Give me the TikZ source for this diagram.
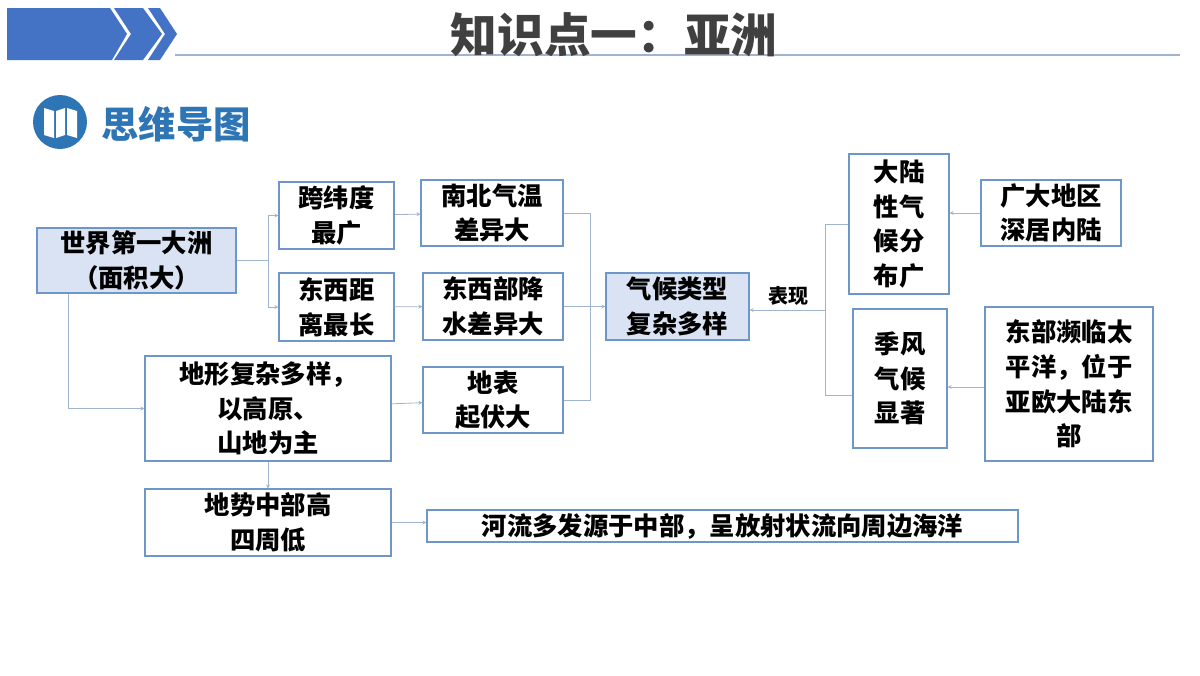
\documentclass[tikz,border=0pt]{standalone}
\usetikzlibrary{arrows.meta}
\usepackage{fontspec}
\newfontfamily\cjk{Noto Sans CJK SC}
\definecolor{barblue}{RGB}{68,114,196}
\definecolor{iconblue}{RGB}{46,117,182}
\definecolor{boxline}{RGB}{110,150,200}
\definecolor{boxfill}{RGB}{218,227,243}
\definecolor{linkcol}{RGB}{160,180,205}
\definecolor{titlecol}{RGB}{64,64,64}
\tikzset{
  box/.style={draw=boxline, line width=0.8pt, inner sep=0pt, align=center,
    font=\cjk\bfseries\fontsize{19}{26}\selectfont},
  link/.style={draw=linkcol, line width=0.6pt},
  arr/.style={link, -{Stealth[length=3pt,width=3pt]}}
}
\begin{document}
\begin{tikzpicture}[x=0.75pt,y=0.75pt,yscale=-1]
      \useasboundingbox (0,0) rectangle (1200,675);

      %Header bar and chevrons
      \fill [barblue] (7,8) -- (110,8) -- (127,34) -- (112,60) -- (7,60) -- cycle ;
      \fill [barblue] (114,8) -- (143,8) -- (162,34) -- (143,60) -- (114,60) -- (131,34) -- cycle ;
      \fill [barblue] (148,8) -- (160,8) -- (177,34) -- (160,60) -- (148,60) -- (165,34) -- cycle ;
      \draw [color=linkcol, line width=0.8pt] (175,55) -- (1180,55) ;
      % Text Node
      \node (title) at (614,35) [text=titlecol, font=\cjk\bfseries\fontsize{35}{38}\selectfont] {知识点一：亚洲};

      %Icon
      \fill [iconblue] (60,122) circle [radius=27] ;
      \fill [white] (44,108) -- (54,111) -- (54,138) -- (44,135) -- cycle ;
      \fill [white] (56,111) -- (65,108) -- (65,135) -- (56,138) -- cycle ;
      \fill [white] (67,108) -- (77,111) -- (77,138) -- (67,135) -- cycle ;
      % Text Node
      \node (sub) at (176,124) [text=iconblue, font=\cjk\bfseries\fontsize{28}{30}\selectfont] {思维导图};

      % Boxes
      \node (big) at (136.5,260.5) [box, fill=boxfill, minimum width=149.25pt, minimum height=48.75pt] {世界第一大洲\\（面积大）};
      \node (lat) at (336.5,215.5) [box, minimum width=86.25pt, minimum height=50.25pt] {跨纬度\\最广};
      \node (temp) at (492,213) [box, minimum width=106.5pt, minimum height=49.5pt] {南北气温\\差异大};
      \node (ew) at (336.5,307) [box, minimum width=86.25pt, minimum height=51pt] {东西距\\离最长};
      \node (rain) at (493,306.5) [box, minimum width=105pt, minimum height=50.25pt] {东西部降\\水差异大};
      \node (terr) at (268,408.5) [box, minimum width=184.5pt, minimum height=78.75pt] {地形复杂多样，\\以高原、\\山地为主};
      \node (relief) at (493,400) [box, minimum width=105pt, minimum height=49.5pt] {地表\\起伏大};
      \node (slope) at (268,522.5) [box, minimum width=184.5pt, minimum height=50.25pt] {地势中部高\\四周低};
      \node (river) at (722.5,526) [box, minimum width=443.25pt, minimum height=24pt] {河流多发源于中部，呈放射状流向周边海洋};
      \node (clim) at (677.5,306.5) [box, fill=boxfill, minimum width=107.25pt, minimum height=50.25pt] {气候类型\\复杂多样};
      \node (cont) at (899,224) [box, minimum width=75pt, minimum height=105pt] {大陆\\性气\\候分\\布广};
      \node (inland) at (1051,213) [box, minimum width=105pt, minimum height=49.5pt] {广大地区\\深居内陆};
      \node (mons) at (900,378.5) [box, minimum width=70.5pt, minimum height=104.25pt] {季风\\气候\\显著};
      \node (pac) at (1069,384) [box, minimum width=126pt, minimum height=115.5pt] {东部濒临太\\平洋，位于\\亚欧大陆东\\部};
      % Text Node
      \node (show) at (788,296) [font=\cjk\bfseries\fontsize{15}{17}\selectfont] {表现};

      % Connectors
      \coordinate (splitA) at (268,260.5) ;
      \draw [link] (big.east) -- (splitA) ;
      \draw [arr] (splitA) |- (lat.west) ;
      \draw [arr] (splitA) |- (ew.west) ;
      \draw [arr] (lat) -- (temp) ;
      \draw [arr] (ew) -- (rain) ;
      \draw [arr] (big.south -| 68,0) |- (terr.west) ;
      \draw [arr] (terr) -- (relief) ;
      \draw [arr] (terr) -- (slope) ;
      \draw [arr] (slope.east) -- (river.west |- slope.east) ;
      \coordinate (joinC) at (590,306.5) ;
      \draw [link] (temp.east) -| (joinC) ;
      \draw [link] (relief.east) -| (joinC) ;
      \draw [arr] (rain) -- (clim) ;
      \coordinate (splitR) at (825,310) ;
      \draw [arr] (splitR) -- (clim.east |- splitR) ;
      \draw [link] (splitR) |- (cont.west) ;
      \draw [link] (splitR) |- (mons.west |- 0,395) ;
      \draw [arr] (inland) -- (cont.east |- inland) ;
      \draw [arr] (pac.west |- 0,387) -- (mons.east |- 0,387) ;

\end{tikzpicture}
\end{document}
